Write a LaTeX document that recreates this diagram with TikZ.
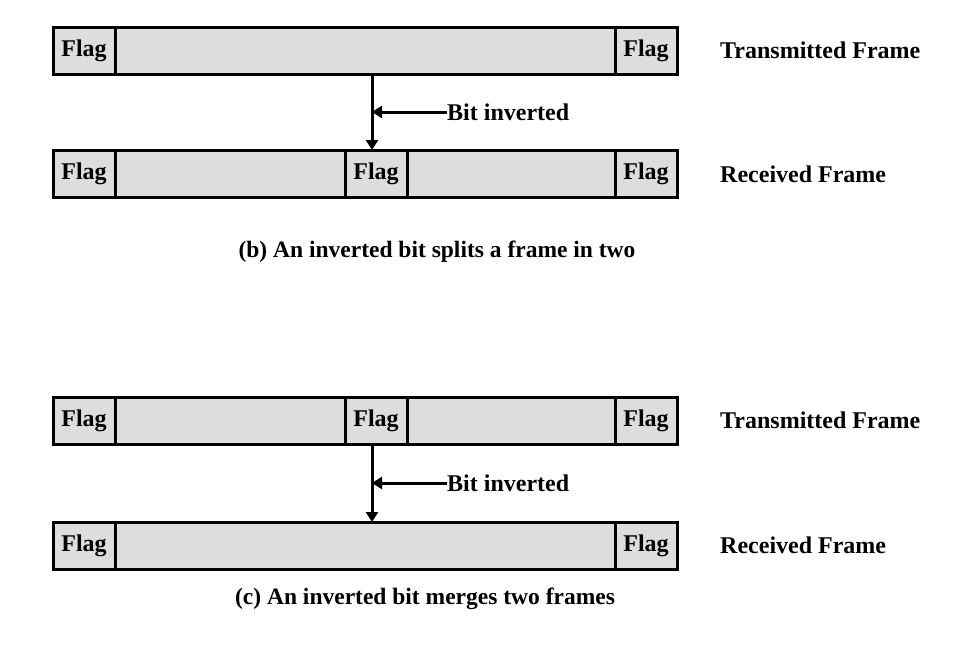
\documentclass[tikz,border=0pt]{standalone}
\usepackage{fontspec}
\setmainfont{Liberation Serif}
\usetikzlibrary{arrows.meta}
\definecolor{framegray}{RGB}{221,221,223}
\tikzset{
  framebox/.style={draw, line width=3pt, fill=framegray, minimum height=47pt, inner sep=0pt, outer sep=0pt, anchor=north west},
  flagbox/.style={framebox, minimum width=62pt, font=\bfseries\fontsize{24}{24}\selectfont},
  tagtext/.style={anchor=west, inner sep=0pt, font=\bfseries\fontsize{24}{24}\selectfont},
  captext/.style={inner sep=0pt, font=\bfseries\fontsize{23.5}{23.5}\selectfont},
  hitarrow/.style={line width=3pt, -{Triangle[length=10pt,width=12pt]}}
}
\begin{document}
\begin{tikzpicture}[x=1pt, y=-1pt]
      \useasboundingbox[fill=white] (0,0) rectangle (961,645);
      \node[framebox, minimum width=624pt] (tf1) at (53,27) {};
      \node[flagbox] (tf1a) at (53,27) {Flag}; \node[flagbox, anchor=north east] (tf1b) at (677,27) {Flag};
      \node[framebox, minimum width=624pt] (rf1) at (53,150) {};
      \node[flagbox] (rf1a) at (53,150) {Flag}; \node[flagbox] (rf1m) at (345,150) {Flag}; \node[flagbox, anchor=north east] (rf1b) at (677,150) {Flag};
      \coordinate (hit1) at (372,112);
      \node[tagtext] (bi1) at (447,112) {Bit inverted};
      \draw[hitarrow] (tf1.south -| hit1) to (rf1.north -| hit1);
      \draw[hitarrow] (bi1.west) to (hit1);
      \node[tagtext] (tx1) at (720,50) {Transmitted Frame};
      \node[tagtext] (rx1) at (720,174) {Received Frame};
      \node[captext] (cap1) at (437,252) {(b) An inverted bit splits a frame in two};
      \node[framebox, minimum width=624pt] (tf2) at (53,397) {};
      \node[flagbox] (tf2a) at (53,397) {Flag}; \node[flagbox] (tf2m) at (345,397) {Flag}; \node[flagbox, anchor=north east] (tf2b) at (677,397) {Flag};
      \node[framebox, minimum width=624pt] (rf2) at (53,522) {};
      \node[flagbox] (rf2a) at (53,522) {Flag}; \node[flagbox, anchor=north east] (rf2b) at (677,522) {Flag};
      \coordinate (hit2) at (372,483);
      \node[tagtext] (bi2) at (447,483) {Bit inverted};
      \draw[hitarrow] (tf2.south -| hit2) to (rf2.north -| hit2);
      \draw[hitarrow] (bi2.west) to (hit2);
      \node[tagtext] (tx2) at (720,420) {Transmitted Frame};
      \node[tagtext] (rx2) at (720,545) {Received Frame};
      \node[captext] (cap2) at (425,599) {(c) An inverted bit merges two frames};
    \end{tikzpicture}
\end{document}
